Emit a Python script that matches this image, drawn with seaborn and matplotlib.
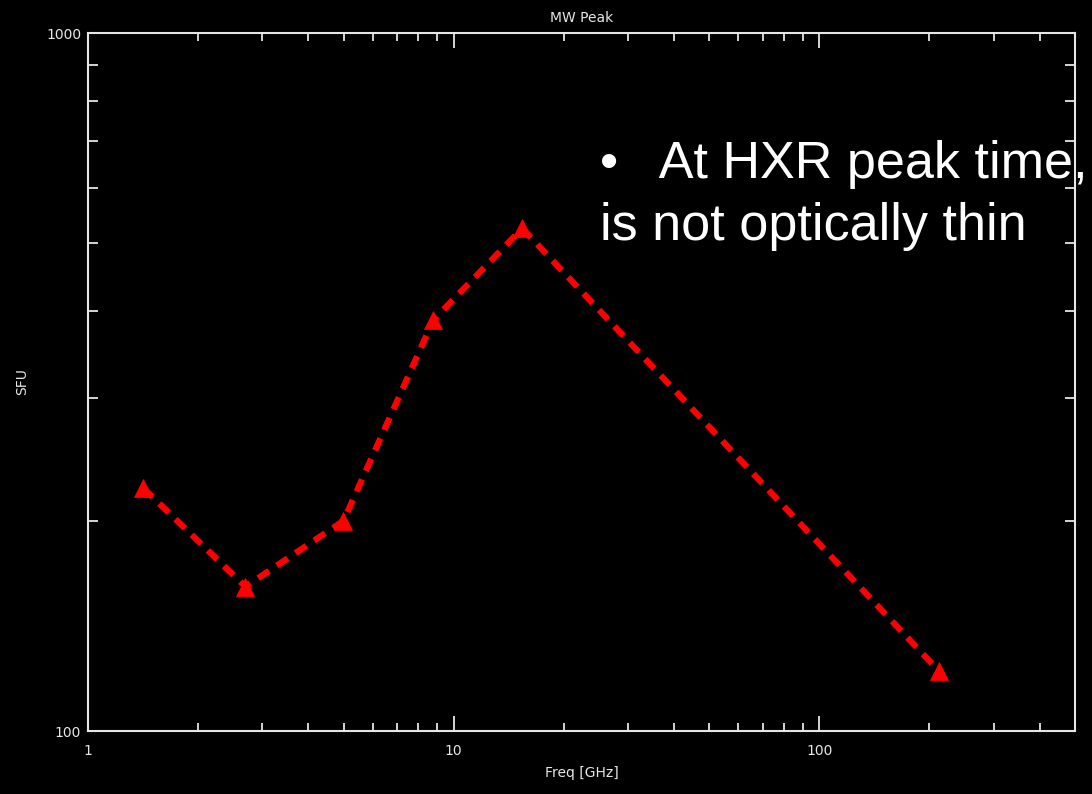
import matplotlib
matplotlib.use("Agg")
import matplotlib.pyplot as plt
from matplotlib.ticker import FixedLocator, FixedFormatter, LogLocator, NullFormatter
import seaborn as sns
import pandas as pd

# Peak microwave flux density per observing frequency
freq_ghz = [1.415, 2.695, 4.995, 8.8, 15.4, 212.0]
flux_sfu = [223, 161, 200, 388, 525, 122]

x_ticks = [1, 10, 100]
x_tick_labels = ["1", "10", "100"]
y_ticks = [100, 1000]
y_tick_labels = ["100", "1000"]

title = "MW Peak"
x_label = "Freq [GHz]"
y_label = "SFU"
note_lines = ["\u2022   At HXR peak time,", "is not optically thin"]

sns.set_theme(style="dark")
plt.rcParams["font.family"] = ["DejaVu Sans"]

fg = "#e6e6e6"
fig = plt.figure(figsize=(10.92, 7.94), dpi=100, facecolor="black")
ax = fig.add_axes([0.0806, 0.0793, 0.9038, 0.8791])
ax.set_facecolor("black")

df = pd.DataFrame({"freq": freq_ghz, "flux": flux_sfu})
sns.lineplot(data=df, x="freq", y="flux", ax=ax, color="red",
             linestyle="--", linewidth=4.5, marker="^", markersize=12.5,
             markeredgecolor="red", markeredgewidth=0.5, markerfacecolor="red",
             sort=False, estimator=None)
for ln in ax.lines:
    ln.set_dashes((2.1, 1.5))
    ln.set_dash_capstyle("butt")

ax.set_xscale("log")
ax.set_yscale("log")
ax.set_xlim(1, 500)
ax.set_ylim(100, 1000)

ax.xaxis.set_major_locator(FixedLocator(x_ticks))
ax.xaxis.set_major_formatter(FixedFormatter(x_tick_labels))
ax.yaxis.set_major_locator(FixedLocator(y_ticks))
ax.yaxis.set_major_formatter(FixedFormatter(y_tick_labels))
ax.xaxis.set_minor_locator(LogLocator(base=10, subs=range(2, 10)))
ax.yaxis.set_minor_locator(LogLocator(base=10, subs=range(2, 10)))
ax.xaxis.set_minor_formatter(NullFormatter())
ax.yaxis.set_minor_formatter(NullFormatter())

ax.grid(False)
for s in ax.spines.values():
    s.set_visible(True)
    s.set_color(fg)
    s.set_linewidth(1.5)

ax.tick_params(axis="x", which="major", direction="in", length=11, width=1.3,
               color=fg, labelcolor=fg, labelsize=10, pad=9, top=True, bottom=True)
ax.tick_params(axis="x", which="minor", direction="in", length=5.5, width=1.3,
               color=fg, top=True, bottom=True)
ax.tick_params(axis="y", which="major", direction="in", length=14, width=1.3,
               color=fg, labelcolor=fg, labelsize=10, pad=5, left=True, right=True)
ax.tick_params(axis="y", which="minor", direction="in", length=7.5, width=1.3,
               color=fg, left=True, right=True)

ax.set_xlabel(x_label, color=fg, fontsize=10, labelpad=6)
ax.set_ylabel(y_label, color=fg, fontsize=10, labelpad=12)
ax.set_title(title, color=fg, fontsize=10, pad=8)

note_font = ["Liberation Sans", "DejaVu Sans"]
fig.text(600 / 1092, 1 - 178 / 794, note_lines[0], color="white",
         fontsize=37.5, family=note_font, ha="left", va="baseline")
fig.text(600 / 1092, 1 - 240 / 794, note_lines[1], color="white",
         fontsize=37.5, family=note_font, ha="left", va="baseline")

fig.savefig("out.png", dpi=100, facecolor="black")
